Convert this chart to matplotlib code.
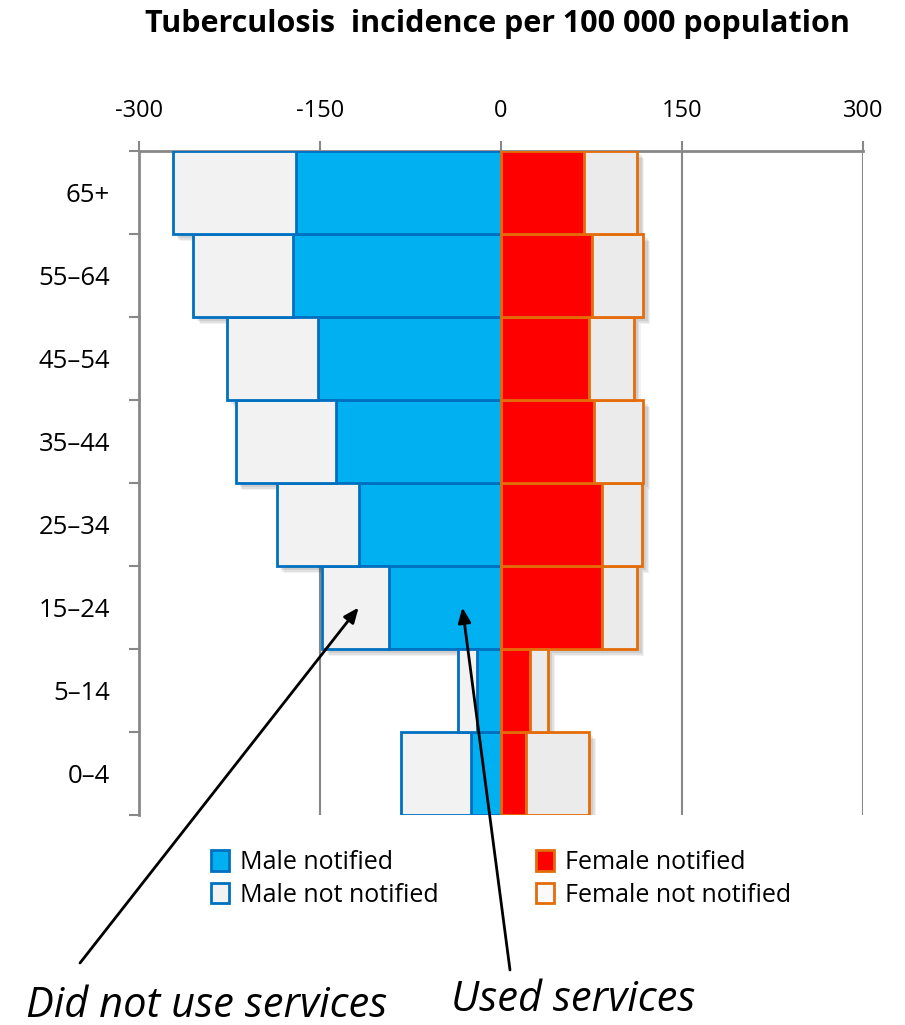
import matplotlib
matplotlib.use("Agg")
import matplotlib.pyplot as plt
import matplotlib.patheffects as pe
from matplotlib.patches import Patch
import numpy as np

plt.rcParams['font.family'] = ['Open Sans', 'DejaVu Sans']

age_groups = ["0–4", "5–14", "15–24", "25–34", "35–44", "45–54", "55–64", "65+"]
male_notified = [25, 20, 93, 118, 137, 152, 172, 170]
male_total = [83, 36, 148, 186, 220, 227, 255, 272]
female_notified = [21, 24, 84, 84, 77, 73, 75, 69]
female_total = [73, 39, 113, 117, 118, 110, 118, 113]
x_ticks = [-300, -150, 0, 150, 300]

male_not = [t - n for t, n in zip(male_total, male_notified)]
female_not = [t - n for t, n in zip(female_total, female_notified)]

blue_fill = "#00B0F0"
blue_edge = "#0070C0"
red_fill = "#FF0000"
orange_edge = "#E46C0A"
grey_fill = "#F2F2F2"
grey_fill2 = "#EBEBEB"

fig = plt.figure(figsize=(9.05, 10.25), dpi=100)
ax = fig.add_axes([139/905, 1-815/1025, (863-139)/905, (815-151)/1025])

y = np.arange(len(age_groups))

# soft shadows
for off, a in [((5, -5), 0.05), ((4, -4), 0.07), ((3, -3), 0.08)]:
    sh = [pe.SimplePatchShadow(offset=off, shadow_rgbFace="black", alpha=a)]
    ax.barh(y, [-v for v in male_total], height=1.0, color="none", edgecolor="none", zorder=1, path_effects=sh)
    ax.barh(y, female_total, height=1.0, color="none", edgecolor="none", zorder=1, path_effects=sh)

ax.barh(y, [-v for v in male_notified], height=1.0, color=blue_fill, edgecolor=blue_edge, linewidth=2, zorder=3)
ax.barh(y, [-v for v in male_not], left=[-v for v in male_notified], height=1.0, color=grey_fill,
        edgecolor=blue_edge, linewidth=2, zorder=3)
ax.barh(y, female_notified, height=1.0, color=red_fill, edgecolor=orange_edge, linewidth=2, zorder=3)
ax.barh(y, female_not, left=female_notified, height=1.0, color=grey_fill2,
        edgecolor=orange_edge, linewidth=2, zorder=3)

ax.set_xlim(-300, 300)
ax.set_ylim(-0.5, len(age_groups) - 0.5)
ax.set_xticks(x_ticks)
ax.set_xticklabels([str(v) for v in x_ticks])
ax.xaxis.tick_top()
ax.tick_params(axis="x", which="major", direction="out", length=7, width=1.5, color="#888888",
               labelsize=17, pad=13)
ax.grid(axis="x", color="#888888", linewidth=1.5, zorder=0)
ax.set_axisbelow(True)

ax.set_yticks(y)
ax.set_yticklabels(age_groups)
ax.set_yticks(np.arange(-0.5, len(age_groups)), minor=True)
ax.tick_params(axis="y", which="major", length=0, labelsize=18.5, pad=21)
ax.tick_params(axis="y", which="minor", length=7, width=1.5, color="#888888", direction="out")

for s in ["right", "bottom"]:
    ax.spines[s].set_visible(False)
for s in ["top", "left"]:
    ax.spines[s].set_color("#888888")
    ax.spines[s].set_linewidth(2)

fig.text(497/905, 1-24/1025, "Tuberculosis  incidence per 100 000 population", ha="center", va="center",
         fontsize=22, fontweight="bold")

h_mn = Patch(facecolor=blue_fill, edgecolor=blue_edge, linewidth=2)
h_mnn = Patch(facecolor=grey_fill, edgecolor=blue_edge, linewidth=2)
h_fn = Patch(facecolor=red_fill, edgecolor=orange_edge, linewidth=2)
h_fnn = Patch(facecolor="#FAFAFA", edgecolor=orange_edge, linewidth=2)
leg_kw = dict(loc="upper left", frameon=False, fontsize=18, handlelength=0.7, handleheight=0.9,
              handletextpad=0.45, labelspacing=0.3, borderaxespad=0, borderpad=0)
fig.legend([h_mn, h_mnn], ["Male notified", "Male not notified"],
           bbox_to_anchor=(211/905, 1-850/1025), **leg_kw)
fig.legend([h_fn, h_fnn], ["Female notified", "Female not notified"],
           bbox_to_anchor=(536/905, 1-850/1025), **leg_kw)

ap = dict(arrowstyle="-|>,head_length=0.9,head_width=0.38", color="black", lw=2, shrinkA=0, shrinkB=0)
ax.annotate("", xy=(-118, 2), xycoords="data", xytext=(80/905, 1-963/1025), textcoords="figure fraction",
            arrowprops=ap)
ax.annotate("", xy=(-32, 2), xycoords="data", xytext=(510/905, 1-970/1025), textcoords="figure fraction",
            arrowprops=ap)

fig.text(207/905, 1-1006/1025, "Did not use services", ha="center", va="center", fontsize=30, style="italic")
fig.text(573/905, 1-1000/1025, "Used services", ha="center", va="center", fontsize=30, style="italic")

fig.savefig("out.png", dpi=100)
